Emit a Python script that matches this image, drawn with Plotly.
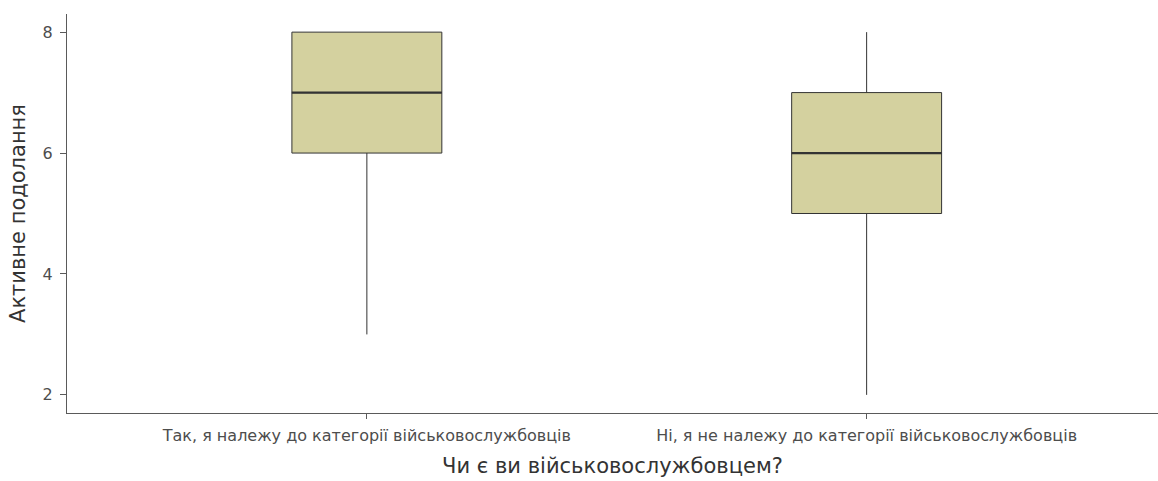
import plotly.graph_objects as go

# Summary statistics of "Активне подолання" by military status
categories = ["Так, я належу до категорії військовослужбовців",
              "Ні, я не належу до категорії військовослужбовців"]
lower_whisker = [3, 2]
q1 = [6, 5]
median = [7, 6]
q3 = [8, 7]
upper_whisker = [8, 8]
y_ticks = [2, 4, 6, 8]

FILL = "#D4D19F"
EDGE = "#333333"
AXIS = "#5a5a5a"
TEXT = "#4D4D4D"
FONT = "DejaVu Sans, Liberation Sans, sans-serif"
BOX_W = 0.3

positions = list(range(len(categories)))
fig = go.Figure()

for i, pos in enumerate(positions):
    fig.add_trace(go.Box(
        x=[pos],
        q1=[q1[i]], median=[median[i]], q3=[q3[i]],
        lowerfence=[lower_whisker[i]], upperfence=[upper_whisker[i]],
        width=BOX_W, whiskerwidth=0,
        fillcolor=FILL,
        line=dict(color=EDGE, width=1),
        boxpoints=False, showlegend=False, hoverinfo="skip",
    ))
    # thicker median line drawn on top of the box
    fig.add_trace(go.Scatter(
        x=[pos - BOX_W / 2, pos + BOX_W / 2],
        y=[median[i], median[i]],
        mode="lines", line=dict(color=EDGE, width=2.2),
        showlegend=False, hoverinfo="skip",
    ))

fig.update_layout(
    width=1158, height=481,
    margin=dict(l=67, r=0, t=14, b=68),
    paper_bgcolor="white", plot_bgcolor="white",
    font=dict(family=FONT, color=TEXT),
    xaxis=dict(
        range=[-0.6, 1.583],
        tickvals=positions, ticktext=categories,
        tickfont=dict(size=16, color=TEXT),
        ticks="outside", ticklen=5, tickcolor=AXIS, tickwidth=1,
        ticklabelstandoff=3,
        showline=True, linecolor=AXIS, linewidth=1.2,
        showgrid=False, zeroline=False,
        title=dict(text="Чи є ви військовослужбовцем?",
                   font=dict(size=21, color="#333333"), standoff=14),
    ),
    yaxis=dict(
        range=[1.7, 8.3],
        tickvals=y_ticks,
        tickfont=dict(size=16, color=TEXT),
        ticks="outside", ticklen=6, tickcolor=AXIS, tickwidth=1,
        ticklabelstandoff=4,
        showline=True, linecolor=AXIS, linewidth=1.2,
        showgrid=False, zeroline=False,
        title=dict(text="Активне подолання",
                   font=dict(size=21, color="#333333"), standoff=11),
    ),
)

fig.write_html("out.html")
